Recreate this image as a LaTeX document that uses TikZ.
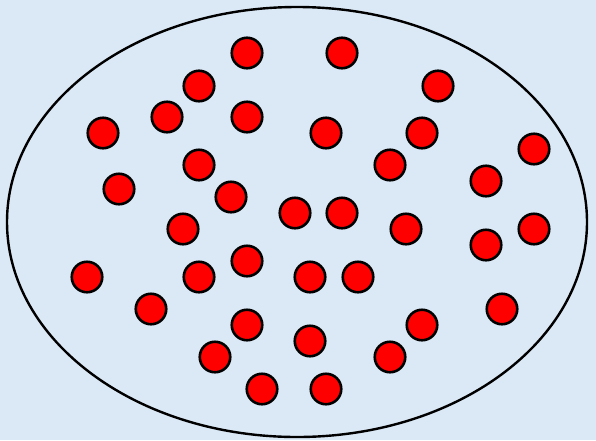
\documentclass[tikz,border=0pt]{standalone}
\usepackage{tikz}
\usetikzlibrary{shapes.geometric}

\definecolor{paleblue}{RGB}{219,233,246}

\begin{document}
\begin{tikzpicture}[x=1pt,y=-1pt,dot/.style={circle,draw=black,line width=2.6pt,fill=red,minimum size=30.5pt,inner sep=0pt}]
\fill[paleblue] (0,0) rectangle (596,440);
\useasboundingbox (0,0) rectangle (596,440);
\node[ellipse,draw,line width=2.4pt,minimum width=580pt,minimum height=430pt,inner sep=0pt] (set) at (297,222) {};
\foreach \n/\x/\y in %
{1/247/53,2/342/53,3/199/86,4/438/86,5/167/117,6/247/117,7/103/133,%
8/326/133,9/422/133,10/534/149,11/199/165,12/390/165,13/486/181,%
14/119/189,15/231/197,16/295/213,17/342/213,18/183/229,19/406/229,%
20/534/229,21/486/245,22/247/261,23/87/277,24/199/277,25/310/277,%
26/358/277,27/151/309,28/502/309,29/247/325,30/422/325,31/310/341,%
32/215/357,33/390/357,34/262/389,35/326/389} {
   \node[dot] (d\n) at (\x,\y) {};
}
\end{tikzpicture}
\end{document}
